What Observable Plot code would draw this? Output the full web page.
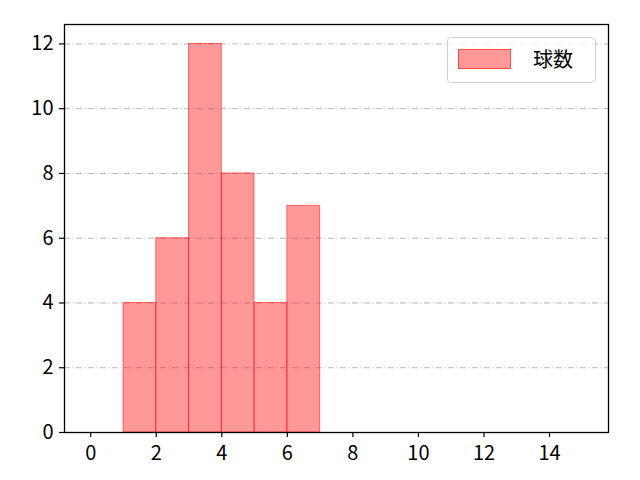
<!DOCTYPE html>
<html><head><meta charset="utf-8">
<script src="https://cdn.jsdelivr.net/npm/d3@7"></script>
<script src="https://cdn.jsdelivr.net/npm/@observablehq/plot@0.6"></script>
<style>
body{margin:0;background:#fff;}
#wrap{position:relative;width:640px;height:480px;font-family:"Noto Sans CJK JP","DejaVu Sans",sans-serif;}
#legend{position:absolute;left:447px;top:37px;width:149px;height:46px;border:1px solid #d0d0d0;border-radius:4px;background:rgba(255,255,255,0.8);box-sizing:border-box;}
#legend .sw{position:absolute;left:10px;top:11px;width:53px;height:20px;background:rgba(255,0,0,0.4);border:1px solid rgba(255,0,0,0.5);box-sizing:border-box;}
#legend .lb{position:absolute;left:85px;top:6px;font-size:20px;line-height:30px;color:#000;}
</style></head>
<body><div id="wrap"><div id="legend"><div class="sw"></div><div class="lb">球数</div></div></div>
<script>
const binStart = [1,2,3,4,5,6];
const binEnd   = [2,3,4,5,6,7];
const counts   = [4,6,12,8,4,7];
const xTicks = [0,2,4,6,8,10,12,14];
const yTicks = [0,2,4,6,8,10,12];
const seriesName = "球数";

const data = binStart.map((s,i)=>({x1:s,x2:binEnd[i],y:counts[i]}));

const chart = Plot.plot({
  width:640, height:480,
  marginLeft:64, marginRight:32, marginTop:24, marginBottom:48,
  style:{fontFamily:'"Noto Sans CJK JP","DejaVu Sans",sans-serif', fontSize:"20px", background:"transparent", color:"#000"},
  x:{domain:[-0.8,15.8], label:null},
  y:{domain:[0,12.6], label:null},
  marks:[
    Plot.ruleY(yTicks, {stroke:"#b0b0b0", strokeWidth:0.9, strokeDasharray:"6,2.5,1,2.5"}),
    Plot.rectY(data, {x1:"x1", x2:"x2", y:"y", fill:"red", fillOpacity:0.4, stroke:"red", strokeOpacity:0.5, strokeWidth:1, inset:0}),
    Plot.axisX({ticks:xTicks, tickSize:5, tickPadding:8, tickFormat:d=>String(d), label:null, strokeWidth:1.2}),
    Plot.axisY({ticks:yTicks, tickSize:5, tickPadding:6, tickFormat:d=>String(d), label:null, strokeWidth:1.2}),
    Plot.frame({stroke:"#000", strokeWidth:1.3})
  ]
});
d3.select(chart).selectAll("text").attr("font-size", null).style("font-size","20px");
d3.select(chart).selectAll("g[aria-label$='tick label']").attr("font-size","20px").style("font-size","20px");
document.getElementById("wrap").prepend(chart);
chart.style.position="absolute";chart.style.left="0";chart.style.top="0";
</script></body></html>
